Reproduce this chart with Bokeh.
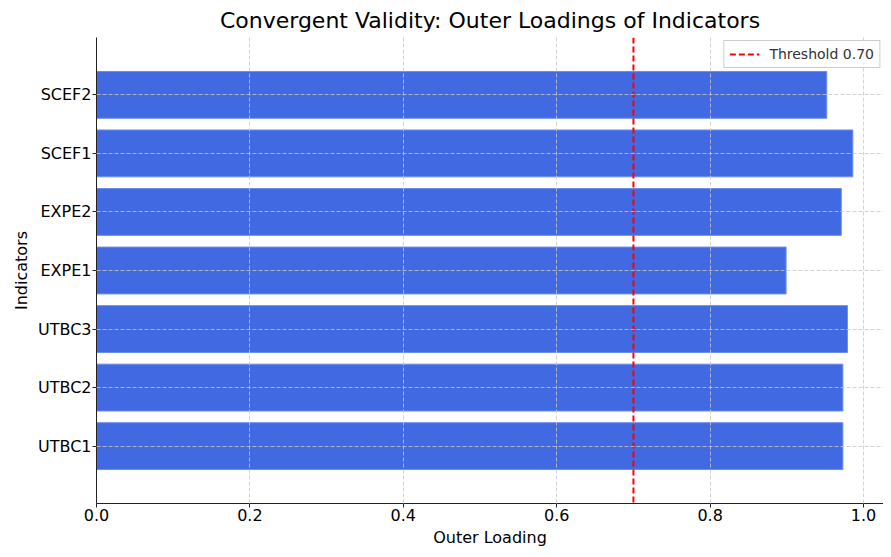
from bokeh.plotting import figure
from bokeh.models import (ColumnDataSource, FactorRange, Range1d, Span, Legend,
                          LegendItem, FixedTicker, PrintfTickFormatter)
from bokeh.embed import file_html
from bokeh.resources import INLINE

indicators = ["UTBC1", "UTBC2", "UTBC3", "EXPE1", "EXPE2", "SCEF1", "SCEF2"]
loadings = [0.973, 0.973, 0.979, 0.899, 0.971, 0.986, 0.952]
threshold = 0.70
x_ticks = [0.0, 0.2, 0.4, 0.6, 0.8, 1.0]

FONT = "DejaVu Sans"

src = ColumnDataSource(dict(ind=indicators, val=loadings))

p = figure(width=883, height=549,
           y_range=FactorRange(factors=indicators, range_padding=0.48,
                               range_padding_units="absolute"),
           x_range=Range1d(0, 1.026),
           output_backend="svg", toolbar_location=None,
           min_border_left=96, min_border_right=0,
           min_border_top=29, min_border_bottom=44)

p.hbar(y="ind", right="val", left=0, height=0.8, source=src,
       fill_color="#4169E1", line_color="#6a8cf0", line_width=1)

sp = Span(location=threshold, dimension="height", line_color="red",
          line_dash="6 3", line_width=2)
p.add_layout(sp)

# zero-length line, only used as the legend entry for the threshold
dummy = p.line(x=[threshold, threshold], y=[indicators[0], indicators[0]],
               line_color="red", line_dash="6 3", line_width=2)
legend = Legend(items=[LegendItem(label="Threshold 0.70", renderers=[dummy])],
                location="top_right", label_text_font=FONT,
                label_text_font_size="14px", label_text_color="#333333",
                border_line_color="#cccccc", border_line_alpha=1,
                background_fill_alpha=0.8, glyph_width=30, glyph_height=14,
                padding=5, margin=3, spacing=0, label_standoff=10)
p.add_layout(legend)

p.title.text = "Convergent Validity: Outer Loadings of Indicators"
p.title.text_font = FONT
p.title.text_font_size = "22px"
p.title.text_font_style = "normal"
p.title.align = "center"
p.title.text_color = "#000000"

p.xaxis.axis_label = "Outer Loading"
p.yaxis.axis_label = "Indicators"
p.xaxis.ticker = FixedTicker(ticks=x_ticks)
p.xaxis.formatter = PrintfTickFormatter(format="%.1f")
for ax in (p.xaxis[0], p.yaxis[0]):
    ax.axis_label_text_font = FONT
    ax.axis_label_text_font_size = "16px"
    ax.axis_label_text_font_style = "normal"
    ax.axis_label_text_color = "#000000"
    ax.major_label_text_font = FONT
    ax.major_label_text_font_size = "16px"
    ax.major_label_text_color = "#000000"
    ax.axis_line_color = "#222222"
    ax.major_tick_line_color = "#222222"
    ax.major_tick_out = 4
    ax.major_tick_in = 0
    ax.minor_tick_line_color = None
    ax.axis_label_standoff = 4
    ax.major_label_standoff = 1

p.outline_line_color = None
for g in (p.xgrid[0], p.ygrid[0]):
    g.grid_line_color = "#c8c8c8"
    g.grid_line_dash = "4 2"
    g.grid_line_alpha = 0.8
    g.level = "overlay"

open("out.html", "w").write(file_html(p, INLINE))
